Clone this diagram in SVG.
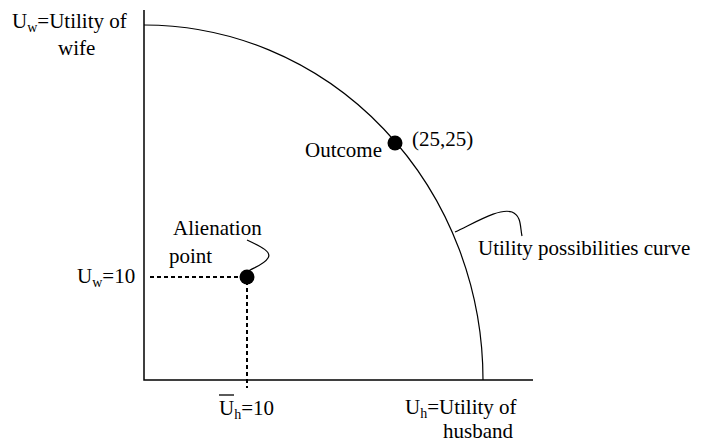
<svg xmlns="http://www.w3.org/2000/svg" width="702" height="444" viewBox="0 0 702 444">
<style>
text{font-family:"Liberation Serif","Times New Roman",serif;font-size:21px;fill:#000}
.ax{stroke:#000;stroke-width:1.5;fill:none}
.ln{stroke:#000;stroke-width:1.2;fill:none}
.dash{stroke:#000;stroke-width:2;stroke-dasharray:4 3;fill:none}
.sub{font-size:14px}
</style>
<rect width="702" height="444" fill="#fff"/>
<g id="connectors">
<path class="ax" d="M144,10 V380 H533"/>
<path class="ln" d="M144,25 A339,355 0 0 1 483,380"/>
<path class="dash" d="M150,277 H243"/>
<path class="dash" d="M247,281 V388"/>
<path class="ln" d="M455,232 C480,220 500,208 512,212 C522,216 520,228 522,236"/>
<path class="ln" d="M247,240 C262,247 272,252 268,258 C264,265 252,268 247,272"/>
</g>
<g id="alienation">
<circle cx="247" cy="277" r="7.5" fill="#000"/>
<text x="173" y="235">Alienation</text>
<text x="169" y="263">point</text>
</g>
<g id="outcome">
<circle cx="395" cy="143" r="7.5" fill="#000"/>
<text x="305" y="157">Outcome</text>
<text x="412" y="146">(25,25)</text>
</g>
<g id="curve-label">
<text x="478" y="255">Utility possibilities curve</text>
</g>
<g id="y-label">
<text x="12" y="28">U<tspan class="sub" dy="4">w</tspan><tspan dy="-4">=Utility of</tspan></text>
<text x="58" y="55">wife</text>
</g>
<g id="uw10">
<text x="77" y="283">U<tspan class="sub" dy="4">w</tspan><tspan dy="-4">=10</tspan></text>
</g>
<g id="uh10">
<line x1="219" y1="395" x2="234" y2="395" stroke="#000" stroke-width="1.3"/>
<text x="219" y="415">U<tspan class="sub" dy="4">h</tspan><tspan dy="-4">=10</tspan></text>
</g>
<g id="x-label">
<text x="405" y="414">U<tspan class="sub" dy="4">h</tspan><tspan dy="-4">=Utility of</tspan></text>
<text x="443" y="438">husband</text>
</g>
</svg>
